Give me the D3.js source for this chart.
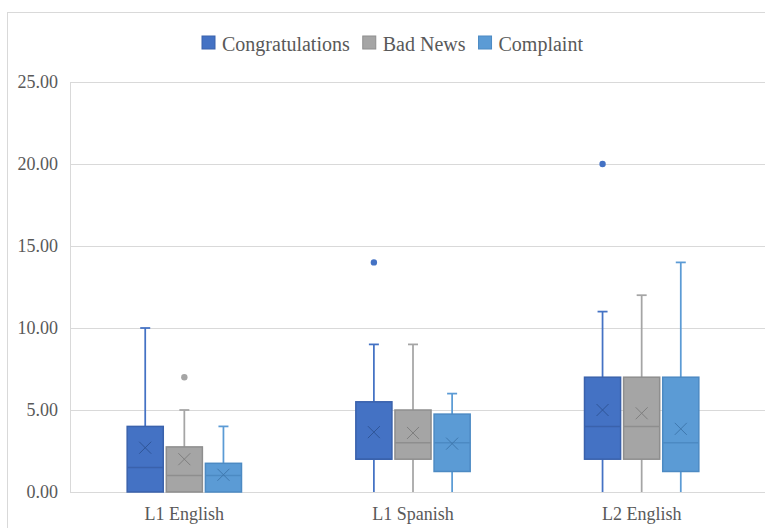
<!DOCTYPE html>
<html>
<head>
<meta charset="utf-8">
<script src="https://cdn.jsdelivr.net/npm/d3@7"></script>
<style>
  html, body { margin: 0; padding: 0; background: #ffffff; }
  svg { display: block; }
</style>
</head>
<body>
<svg id="chart" width="765" height="528"></svg>
<script>
// ---- data ----
const categories = ["L1 English", "L1 Spanish", "L2 English"];
const seriesNames = ["Congratulations", "Bad News", "Complaint"];
const seriesFill = ["#4472C4", "#A5A5A5", "#5B9BD5"];
const seriesStroke = ["#3A62AC", "#8E8E8E", "#4C8AC3"];
const markStroke = ["#2F5597", "#7F7F7F", "#3F78AE"];
const yTicks = [0, 5, 10, 15, 20, 25];

// indexed [series][category]
const lowWhisker = [[0, 0, 0], [0, 0, 0], [0, 0, 0]];
const q1Values   = [[0, 2, 2], [0, 2, 2], [0, 1.25, 1.25]];
const medians    = [[1.5, 2, 4], [1, 3, 4], [1, 3, 3]];
const q3Values   = [[4, 5.5, 7], [2.75, 5, 7], [1.75, 4.75, 7]];
const highWhisker = [[10, 9, 11], [5, 9, 12], [4, 6, 14]];
const means      = [[2.7, 3.65, 5], [2.0, 3.6, 4.8], [1.05, 2.95, 3.85]];
const outliers   = [[[], [14], [20]], [[7], [], []], [[], [], []]];

// ---- layout ----
const FONT = "'Liberation Serif', 'Times New Roman', serif";
const TEXT_COLOR = "#595959";
const svg = d3.select("#chart");
const plotLeft = 70, plotRight = 756, plotTop = 82, plotBottom = 492;

// outer chart border
svg.append("rect").attr("x", 7.5).attr("y", 12.5).attr("width", 800).attr("height", 600)
  .attr("fill", "none").attr("stroke", "#d9d9d9").attr("stroke-width", 1);

const x = d3.scaleBand().domain(categories).range([plotLeft, plotRight]).padding(0);
const xi = d3.scaleBand().domain(seriesNames)
  .range([x.bandwidth() * 0.25, x.bandwidth() * 0.75]).paddingInner(0.077).paddingOuter(0);
const y = d3.scaleLinear().domain([0, 25]).range([plotBottom, plotTop]);

// gridlines + y labels
const yAxis = d3.axisLeft(y).tickValues(yTicks).tickSize(-(765 - plotLeft)).tickFormat(d3.format(".2f")).tickPadding(12);
const gy = svg.append("g").attr("transform", `translate(${plotLeft},0)`).call(yAxis);
gy.attr("font-family", null);
gy.select(".domain").attr("stroke", "#d9d9d9");
gy.selectAll(".tick line").attr("stroke", "#d9d9d9").attr("stroke-width", 1);
gy.selectAll(".tick text").attr("font-size", 18).attr("fill", TEXT_COLOR)
  .style("font-family", FONT);

// x labels
const xAxis = d3.axisBottom(x).tickSize(0).tickPadding(15);
const gx = svg.append("g").attr("transform", `translate(0,${plotBottom})`).call(xAxis);
gx.attr("font-family", null);
gx.select(".domain").remove();
gx.selectAll(".tick text").attr("font-size", 18).attr("fill", TEXT_COLOR)
  .style("font-family", FONT);

// boxes
const boxes = [];
seriesNames.forEach((s, si) => {
  categories.forEach((c, ci) => {
    boxes.push({
      s, si, c, ci,
      lo: lowWhisker[si][ci], q1: q1Values[si][ci], med: medians[si][ci],
      q3: q3Values[si][ci], hi: highWhisker[si][ci], mean: means[si][ci],
      out: outliers[si][ci]
    });
  });
});

const g = svg.append("g");
const bw = xi.bandwidth();
const capW = 10, xSize = 6;

boxes.forEach(b => {
  const x0 = x(b.c) + xi(b.s);
  const cx = x0 + bw / 2;
  const gg = g.append("g");
  // whiskers
  gg.append("line").attr("x1", cx).attr("x2", cx).attr("y1", y(b.hi)).attr("y2", y(b.q3))
    .attr("stroke", seriesFill[b.si]).attr("stroke-width", 1.75);
  gg.append("line").attr("x1", cx).attr("x2", cx).attr("y1", y(b.q1)).attr("y2", y(b.lo))
    .attr("stroke", seriesFill[b.si]).attr("stroke-width", 1.75);
  gg.append("line").attr("x1", cx - capW / 2).attr("x2", cx + capW / 2).attr("y1", y(b.hi)).attr("y2", y(b.hi))
    .attr("stroke", seriesFill[b.si]).attr("stroke-width", 1.75);
  // box
  gg.append("rect").attr("x", x0).attr("y", y(b.q3)).attr("width", bw).attr("height", y(b.q1) - y(b.q3))
    .attr("fill", seriesFill[b.si]).attr("stroke", seriesStroke[b.si]).attr("stroke-width", 1.5);
  // median
  gg.append("line").attr("x1", x0).attr("x2", x0 + bw).attr("y1", y(b.med)).attr("y2", y(b.med))
    .attr("stroke", seriesStroke[b.si]).attr("stroke-width", 1.5);
  // mean X
  const my = y(b.mean);
  gg.append("path")
    .attr("d", `M${cx - xSize},${my - xSize}L${cx + xSize},${my + xSize}M${cx - xSize},${my + xSize}L${cx + xSize},${my - xSize}`)
    .attr("stroke", markStroke[b.si]).attr("stroke-width", 1).attr("fill", "none");
  // outliers
  b.out.forEach(v => {
    gg.append("circle").attr("cx", cx).attr("cy", y(v)).attr("r", 3.2).attr("fill", seriesFill[b.si]);
  });
});

// legend
const leg = svg.append("g").attr("transform", "translate(202,0)");
let lx = 0;
seriesNames.forEach((s, i) => {
  leg.append("rect").attr("x", lx).attr("y", 36).attr("width", 13).attr("height", 13)
    .attr("fill", seriesFill[i]).attr("stroke", seriesStroke[i]).attr("stroke-width", 1);
  const t = leg.append("text").attr("x", lx + 20).attr("y", 51).attr("font-size", 20)
    .attr("fill", TEXT_COLOR).style("font-family", FONT).text(s);
  lx += 20 + t.node().getComputedTextLength() + 13;
});
</script>
</body>
</html>
